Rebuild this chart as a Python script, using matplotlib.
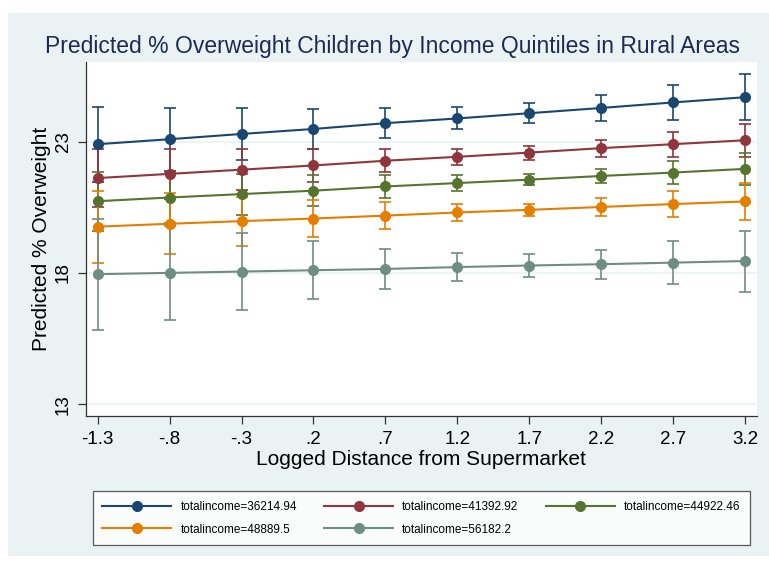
import matplotlib
matplotlib.use("Agg")
import matplotlib.pyplot as plt
from matplotlib.patches import Rectangle

# Predicted values (margins) and 95% CI half-widths per income quintile
distance = [-1.3, -0.8, -0.3, 0.2, 0.7, 1.2, 1.7, 2.2, 2.7, 3.2]
tick_labels = ["-1.3", "-.8", "-.3", ".2", ".7", "1.2", "1.7", "2.2", "2.7", "3.2"]

income_labels = [
    "totalincome=36214.94",
    "totalincome=41392.92",
    "totalincome=44922.46",
    "totalincome=48889.5",
    "totalincome=56182.2",
]

pred_q1 = [22.90, 23.09, 23.29, 23.48, 23.70, 23.88, 24.08, 24.28, 24.49, 24.69]
pred_q2 = [21.61, 21.77, 21.93, 22.09, 22.27, 22.42, 22.58, 22.75, 22.90, 23.05]
pred_q3 = [20.73, 20.87, 21.00, 21.13, 21.29, 21.42, 21.55, 21.69, 21.82, 21.96]
pred_q4 = [19.76, 19.87, 19.97, 20.07, 20.18, 20.30, 20.40, 20.51, 20.62, 20.72]
pred_q5 = [17.95, 18.00, 18.05, 18.10, 18.15, 18.22, 18.28, 18.33, 18.39, 18.45]

ci_q1 = [1.43, 1.20, 0.98, 0.77, 0.57, 0.42, 0.38, 0.49, 0.66, 0.87]
ci_q2 = [1.12, 0.94, 0.78, 0.62, 0.44, 0.30, 0.27, 0.32, 0.48, 0.63]
ci_q3 = [1.13, 0.96, 0.78, 0.60, 0.42, 0.29, 0.21, 0.28, 0.43, 0.60]
ci_q4 = [1.37, 1.16, 0.93, 0.71, 0.52, 0.32, 0.22, 0.33, 0.49, 0.71]
ci_q5 = [2.12, 1.78, 1.45, 1.10, 0.77, 0.52, 0.42, 0.55, 0.82, 1.16]

preds = [pred_q1, pred_q2, pred_q3, pred_q4, pred_q5]
cis = [ci_q1, ci_q2, ci_q3, ci_q4, ci_q5]

# Stata s2color palette
colors = ["#1A476F", "#90353B", "#55752F", "#E37E00", "#6E8E84"]
bg = "#EAF2F3"

plt.rcParams["font.family"] = ["Liberation Sans", "DejaVu Sans"]

fig = plt.figure(figsize=(7.69, 5.61), dpi=100)
fig.patch.set_facecolor("white")
fig.patches.append(Rectangle((8 / 769, 5 / 561), 1 - 8 / 769, 1 - 5 / 561 - 13 / 561,
                             transform=fig.transFigure, facecolor=bg,
                             edgecolor="none", zorder=-10))

ax = fig.add_axes([85.7 / 769, 1 - 416 / 561, (757 - 85.7) / 769, (416 - 62) / 561])
ax.set_facecolor("white")

for y in [13, 18, 23]:
    ax.axhline(y, color=bg, lw=1.2, zorder=0)

# confidence intervals first, then the connected predictions on top
for p, ci, c in zip(preds, cis, colors):
    ax.errorbar(distance, p, yerr=ci, fmt="none", ecolor=c, elinewidth=1.2,
                capsize=4.5, capthick=1.2, zorder=2)

handles = []
for p, c, lab in zip(preds, colors, income_labels):
    h, = ax.plot(distance, p, "-o", color=c, lw=1.5, markersize=7, label=lab,
                 zorder=3)
    handles.append(h)

ax.set_xlim(-1.383, 3.283)
ax.set_ylim(12.55, 26.03)
ax.set_xticks(distance)
ax.set_xticklabels(tick_labels, fontsize=13.5)
ax.set_yticks([13, 18, 23])
ax.set_yticklabels(["13", "18", "23"], fontsize=13.5, rotation=90, va="center")
ax.tick_params(length=6, width=0.9, color="#333333")
ax.tick_params(axis="x", pad=5)
ax.tick_params(axis="y", pad=4)

for side in ["top", "right"]:
    ax.spines[side].set_visible(False)
for side in ["left", "bottom"]:
    ax.spines[side].set_color("#333333")
    ax.spines[side].set_linewidth(0.9)

ax.set_xlabel("Logged Distance from Supermarket", fontsize=15, labelpad=1)
ax.set_ylabel("Predicted % Overweight", fontsize=15, labelpad=3)

fig.text(0.510, 0.918, "Predicted % Overweight Children by Income Quintiles in Rural Areas",
         ha="center", va="center", fontsize=16.5, color="#1C2B55")

# legend fills row-wise: reorder for matplotlib's column-wise layout
order = [0, 3, 1, 4, 2]
leg = fig.legend([handles[i] for i in order], [income_labels[i] for i in order],
                 loc="lower left",
                 bbox_to_anchor=(93 / 769, 1 - 545 / 561, (750 - 93) / 769, (545 - 482) / 561),
                 mode="expand", ncol=3, fontsize=8.5, handlelength=5.8,
                 handletextpad=0.8, frameon=True, fancybox=False,
                 borderaxespad=0, borderpad=0.8, labelspacing=0.9)
leg.get_frame().set_edgecolor("#333333")
leg.get_frame().set_linewidth(0.9)

fig.savefig("out.png", dpi=100)
